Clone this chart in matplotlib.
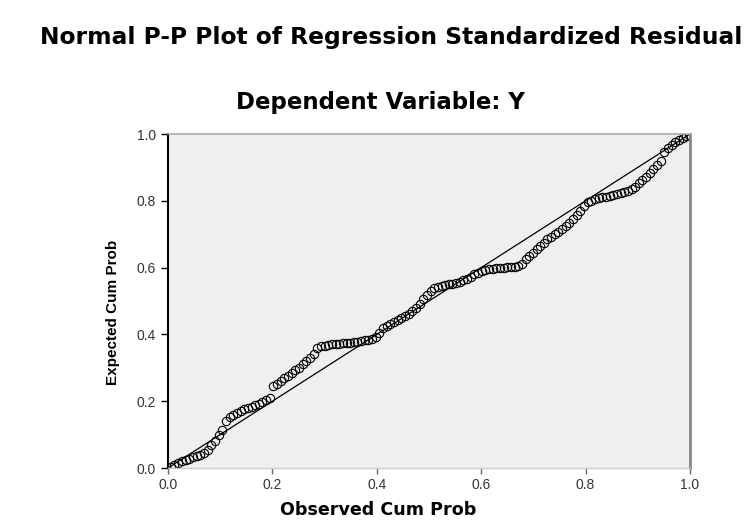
import matplotlib
matplotlib.use('Agg')
import matplotlib.pyplot as plt

# observed cum prob (x) vs expected cum prob (y)
observed = [0.005, 0.012, 0.020, 0.027, 0.034, 0.041, 0.048, 0.055, 0.062, 0.069,
            0.076, 0.083, 0.090, 0.097, 0.104,
            0.111, 0.118, 0.125, 0.132, 0.139, 0.146, 0.153, 0.160, 0.167, 0.174, 0.181, 0.188, 0.195,
            0.202, 0.209, 0.216, 0.223, 0.230, 0.237, 0.244, 0.251, 0.258, 0.265, 0.272, 0.279,
            0.286, 0.293, 0.300, 0.307, 0.314, 0.321, 0.328, 0.335, 0.342, 0.349, 0.356, 0.363,
            0.370, 0.377, 0.384, 0.391, 0.398,
            0.405, 0.412, 0.419, 0.426, 0.433, 0.440, 0.447, 0.454, 0.461, 0.468, 0.475, 0.482, 0.489, 0.496,
            0.503, 0.510, 0.517, 0.524, 0.531, 0.538, 0.545, 0.552, 0.559, 0.566, 0.573, 0.580,
            0.587, 0.594, 0.601, 0.608, 0.615, 0.622, 0.629, 0.636, 0.643, 0.650, 0.657, 0.664, 0.671, 0.678,
            0.685, 0.692, 0.699, 0.706, 0.713, 0.720, 0.727, 0.734, 0.741, 0.748, 0.755, 0.762, 0.769,
            0.776, 0.783, 0.790, 0.797,
            0.804, 0.811, 0.818, 0.825, 0.832, 0.839, 0.846, 0.853, 0.860, 0.867, 0.874, 0.881, 0.888, 0.895,
            0.902, 0.909, 0.916, 0.923, 0.930, 0.937, 0.944,
            0.951, 0.958, 0.965, 0.972, 0.979, 0.986, 0.993, 0.998]
expected = [0.004, 0.010, 0.015, 0.020, 0.024, 0.028, 0.032, 0.036, 0.040, 0.046,
            0.055, 0.068, 0.082, 0.098, 0.115,
            0.140, 0.152, 0.160, 0.166, 0.172, 0.176, 0.180, 0.184, 0.188, 0.192, 0.197, 0.203, 0.210,
            0.245, 0.252, 0.260, 0.268, 0.276, 0.284, 0.292, 0.300, 0.310, 0.320, 0.330, 0.342,
            0.360, 0.364, 0.366, 0.368, 0.370, 0.371, 0.372, 0.373, 0.374, 0.375, 0.376, 0.378,
            0.380, 0.382, 0.384, 0.387, 0.392,
            0.405, 0.418, 0.425, 0.430, 0.436, 0.442, 0.448, 0.455, 0.462, 0.470, 0.480, 0.492, 0.505, 0.518,
            0.530, 0.538, 0.543, 0.546, 0.548, 0.550, 0.552, 0.555, 0.558, 0.562, 0.566, 0.571,
            0.580, 0.585, 0.589, 0.592, 0.595, 0.597, 0.598, 0.599, 0.600, 0.601, 0.602, 0.603, 0.606, 0.612,
            0.625, 0.635, 0.645, 0.655, 0.665, 0.675, 0.685, 0.693, 0.700, 0.708, 0.716, 0.725, 0.735,
            0.745, 0.758, 0.770, 0.785,
            0.795, 0.800, 0.804, 0.807, 0.810, 0.812, 0.815, 0.818, 0.820, 0.823, 0.826, 0.830, 0.835, 0.842,
            0.852, 0.862, 0.872, 0.884, 0.896, 0.908, 0.920,
            0.945, 0.958, 0.968, 0.976, 0.982, 0.988, 0.993, 0.998]
diag = [0.0, 1.0]
ticks = [0.0, 0.2, 0.4, 0.6, 0.8, 1.0]
tick_labels = ['0.0', '0.2', '0.4', '0.6', '0.8', '1.0']

plt.rcParams['font.family'] = ['Liberation Sans', 'DejaVu Sans']

fig = plt.figure(figsize=(7.53, 5.2), dpi=100)
ax = fig.add_axes([0.2231, 0.1, 0.6932, 0.6423])
ax.set_facecolor('#efefef')

ax.plot(diag, diag, color='black', linewidth=0.9)
ax.plot(observed, expected, linestyle='none', marker='o', markersize=6,
        markerfacecolor='none', markeredgecolor='black', markeredgewidth=0.8)

ax.set_xlim(0, 1)
ax.set_ylim(0, 1)
ax.set_xticks(ticks)
ax.set_xticklabels(tick_labels)
ax.set_yticks(ticks)
ax.set_yticklabels(tick_labels)
ax.tick_params(axis='y', direction='out', length=5, width=1, colors='black',
               labelsize=10, labelcolor='#333333')
ax.tick_params(axis='x', direction='out', length=4, width=1, colors='#666666',
               labelsize=10, labelcolor='#333333')

ax.spines['left'].set_color('black')
ax.spines['left'].set_linewidth(1.5)
ax.spines['right'].set_color('#888888')
ax.spines['right'].set_linewidth(2)
ax.spines['top'].set_color('#aaaaaa')
ax.spines['top'].set_linewidth(1.2)
ax.spines['bottom'].set_color('#cccccc')
ax.spines['bottom'].set_linewidth(1)

fig.text(0.52, 0.927, 'Normal P-P Plot of Regression Standardized Residual',
         ha='center', va='center', fontsize=16.8, fontweight='bold', family='DejaVu Sans')
fig.text(0.505, 0.802, 'Dependent Variable: Y', ha='center', va='center',
         fontsize=16.5, fontweight='bold', family='DejaVu Sans')
fig.text(0.502, 0.019, 'Observed Cum Prob', ha='center', va='center',
         fontsize=12.6, fontweight='bold', family='DejaVu Sans')
fig.text(0.15, 0.40, 'Expected Cum Prob', ha='center', va='center',
         rotation=90, fontsize=11, fontweight='bold')

fig.savefig('out.png', dpi=100)
